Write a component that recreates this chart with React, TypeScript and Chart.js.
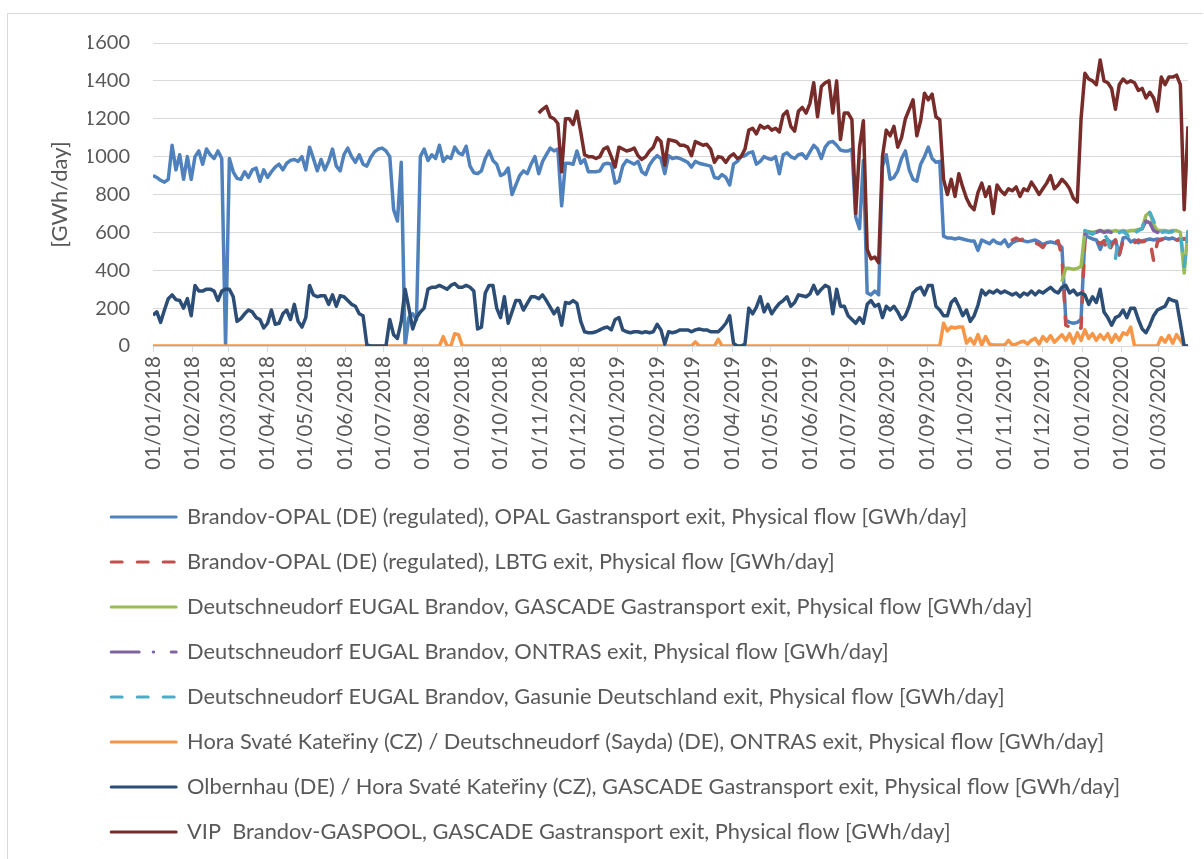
import React, { useEffect, useRef } from 'react';
import { Chart, registerables } from 'chart.js';

Chart.register(...registerables);

// Day 0 = 01/01/2018; each series is sampled every STEP days from its start day.
const STEP = 3;
const LAST_DAY = 813;

const monthLabels = [
  '01/01/2018', '01/02/2018', '01/03/2018', '01/04/2018', '01/05/2018', '01/06/2018',
  '01/07/2018', '01/08/2018', '01/09/2018', '01/10/2018', '01/11/2018', '01/12/2018',
  '01/01/2019', '01/02/2019', '01/03/2019', '01/04/2019', '01/05/2019', '01/06/2019',
  '01/07/2019', '01/08/2019', '01/09/2019', '01/10/2019', '01/11/2019', '01/12/2019',
  '01/01/2020', '01/02/2020', '01/03/2020',
];

const yTicks = [0, 200, 400, 600, 800, 1000, 1200, 1400, 1600];
const yTitle = '[GWh/day]';

const seriesNames = [
  'Brandov-OPAL (DE) (regulated), OPAL Gastransport exit, Physical flow [GWh/day]',
  'Brandov-OPAL (DE) (regulated), LBTG exit, Physical flow [GWh/day]',
  'Deutschneudorf EUGAL Brandov, GASCADE Gastransport exit, Physical flow [GWh/day]',
  'Deutschneudorf EUGAL Brandov, ONTRAS exit, Physical flow [GWh/day]',
  'Deutschneudorf EUGAL Brandov, Gasunie Deutschland exit, Physical flow [GWh/day]',
  'Hora Svaté Kateřiny (CZ) / Deutschneudorf (Sayda) (DE), ONTRAS exit, Physical flow [GWh/day]',
  'Olbernhau (DE) / Hora Svaté Kateřiny (CZ), GASCADE Gastransport exit, Physical flow [GWh/day]',
  'VIP  Brandov-GASPOOL, GASCADE Gastransport exit, Physical flow [GWh/day]',
];

// Brandov-OPAL, OPAL Gastransport exit (from day 0)
const opalStart = 0;
const opalValues = [
  900, 890, 875, 865, 880, 1060, 930, 1010, 880, 1000, // d0
  880, 1000, 1030, 960, 1040, 1010, 990, 1030, 990, 0, // d30
  990, 920, 885, 880, 920, 890, 930, 940, 870, 930, // d60
  890, 920, 945, 960, 930, 965, 980, 985, 975, 1000, // d90
  930, 1050, 990, 925, 985, 930, 975, 1040, 950, 925, // d120
  1010, 1045, 1000, 970, 1010, 960, 950, 995, 1025, 1040, // d150
  1045, 1030, 1000, 720, 660, 970, 0, 150, 170, 140, // d180
  1000, 1040, 980, 1010, 990, 1060, 975, 1000, 990, 1050, // d210
  1020, 1010, 1055, 950, 915, 910, 925, 990, 1030, 980, // d240
  960, 900, 910, 940, 800, 850, 900, 925, 910, 960, // d270
  1000, 910, 975, 1010, 1045, 1030, 1040, 740, 965, 965, // d300
  960, 1030, 965, 985, 920, 920, 920, 925, 960, 965, // d330
  960, 860, 870, 950, 980, 970, 960, 975, 920, 905, // d360
  955, 985, 1005, 990, 910, 1005, 990, 995, 990, 980, // d390
  970, 945, 975, 965, 960, 955, 950, 890, 885, 905, // d420
  890, 850, 960, 975, 1000, 1005, 1020, 1025, 960, 975, // d450
  1000, 990, 985, 1000, 910, 1010, 1020, 1000, 990, 1010, // d480
  1015, 990, 1025, 1060, 1040, 990, 1050, 1075, 1080, 1060, // d510
  1035, 1030, 1030, 1040, 680, 620, 980, 280, 270, 290, // d540
  270, 950, 1010, 880, 890, 925, 990, 1030, 930, 880, // d570
  870, 960, 1000, 1050, 990, 970, 975, 580, 570, 570, // d600
  565, 570, 565, 560, 555, 555, 505, 560, 550, 540, // d630
  560, 545, 540, 560, 525, 545, 555, 560, 555, 550, // d660
  555, 560, 550, 535, 545, 550, 545, 540, 520, 135, // d690
  125, 120, 125, 140, 580, 575, 565, 560, 510, 555, // d720
  560, 545, 560, 480, 570, 575, 550, 560, 545, 555, // d750
  560, 565, 560, 565, 560, 570, 565, 570, 560, 570, // d780
  565, 565, // d810
];

// Brandov-OPAL, LBTG exit (from day 675)
const lbtgStart = 675;
const lbtgValues = [
  560, 570, 560, 565, 560, 555, 545, 535, 520, 550, // d675
  560, 545, 555, 470, 110, 100, 105, 85, 95, 560, // d705
  570, 565, 560, 540, 555, 490, 530, 560, 480, 555, // d735
  560, 550, 545, 560, 550, 555, 560, 450, 550, 565, // d765
  560, 555, 565, 560, 560, 565, 570, // d795
];

// Deutschneudorf EUGAL, GASCADE exit (from day 714)
const eugalGascadeStart = 714;
const eugalGascadeValues = [
  340, 410, 410, 405, 410, 420, 605, 605, 600, 605, // d714
  610, 605, 610, 605, 610, 605, 610, 605, 610, 610, // d744
  615, 620, 690, 705, 640, 610, 610, 610, 605, 610, // d774
  610, 600, 385, 610, // d804
];

// Deutschneudorf EUGAL, ONTRAS exit (from day 732)
const eugalOntrasStart = 732;
const eugalOntrasValues = [
  590, 600, 595, 600, 610, 600, 605, 600, 610, 600, // d732
  605, 600, 610, 600, 610, 620, 660, 650, 610, 600, // d762
  605, 600, 610, 600, 605, 600, 610, 610, // d792
];

// Deutschneudorf EUGAL, Gasunie Deutschland exit (from day 732)
const eugalGasunieStart = 732;
const eugalGasunieValues = [
  610, 600, 590, 610, 600, 595, 560, 470, 460, 600, // d732
  605, 590, 560, 595, 610, 620, 700, 705, 660, 600, // d762
  600, 605, 600, 605, 600, 600, 420, 605, // d792
];

// Hora Svaté Kateřiny / Deutschneudorf (Sayda), ONTRAS exit (from day 0)
const horaStart = 0;
const horaValues = [
  0, 0, 0, 0, 0, 0, 0, 0, 0, 0, // d0
  0, 0, 0, 0, 0, 0, 0, 0, 0, 0, // d30
  0, 0, 0, 0, 0, 0, 0, 0, 0, 0, // d60
  0, 0, 0, 0, 0, 0, 0, 0, 0, 0, // d90
  0, 0, 0, 0, 0, 0, 0, 0, 0, 0, // d120
  0, 0, 0, 0, 0, 0, 0, 0, 0, 0, // d150
  0, 0, 0, 0, 0, 0, 0, 0, 0, 0, // d180
  0, 0, 0, 0, 0, 0, 50, 0, 0, 65, // d210
  60, 0, 0, 0, 0, 0, 0, 0, 0, 0, // d240
  0, 0, 0, 0, 0, 0, 0, 0, 0, 0, // d270
  0, 0, 0, 0, 0, 0, 0, 0, 0, 0, // d300
  0, 0, 0, 0, 0, 0, 0, 0, 0, 0, // d330
  0, 0, 0, 0, 0, 0, 0, 0, 0, 0, // d360
  0, 0, 0, 0, 0, 0, 0, 0, 0, 0, // d390
  0, 0, 22, 0, 0, 0, 0, 0, 35, 0, // d420
  0, 0, 0, 0, 0, 0, 0, 0, 0, 0, // d450
  0, 0, 0, 0, 0, 0, 0, 0, 0, 0, // d480
  0, 0, 0, 0, 0, 0, 0, 0, 0, 0, // d510
  0, 0, 0, 0, 0, 0, 0, 0, 0, 0, // d540
  0, 0, 0, 0, 0, 0, 0, 0, 0, 0, // d570
  0, 0, 0, 0, 0, 0, 0, 120, 80, 100, // d600
  95, 100, 100, 15, 40, 10, 60, 5, 50, 10, // d630
  5, 5, 5, 5, 30, 5, 10, 20, 25, 10, // d660
  30, 40, 10, 50, 25, 55, 20, 40, 60, 30, // d690
  65, 15, 70, 30, 85, 40, 65, 30, 60, 35, // d720
  65, 20, 60, 30, 70, 60, 100, 0, 0, 0, // d750
  0, 0, 0, 0, 45, 20, 55, 15, 60, 30, // d780
  0, 0, // d810
];

// Olbernhau / Hora Svaté Kateřiny, GASCADE exit (from day 0)
const olbernhauStart = 0;
const olbernhauValues = [
  163, 180, 125, 190, 250, 270, 245, 240, 200, 250, // d0
  160, 320, 290, 290, 300, 300, 290, 240, 290, 300, // d30
  300, 260, 130, 145, 170, 190, 180, 150, 140, 95, // d60
  120, 190, 115, 120, 170, 190, 140, 220, 130, 100, // d90
  150, 320, 270, 260, 265, 265, 220, 270, 210, 265, // d120
  260, 240, 220, 210, 170, 160, 5, 0, 0, 0, // d150
  0, 0, 140, 60, 40, 130, 300, 200, 90, 150, // d180
  180, 200, 300, 310, 310, 320, 310, 300, 320, 330, // d210
  310, 310, 320, 310, 290, 90, 100, 280, 320, 320, // d240
  200, 150, 260, 120, 180, 240, 240, 190, 225, 260, // d270
  260, 250, 270, 240, 205, 170, 200, 110, 230, 225, // d300
  240, 225, 130, 75, 70, 70, 75, 85, 95, 100, // d330
  85, 140, 150, 85, 75, 70, 75, 75, 70, 75, // d360
  70, 75, 115, 85, 10, 75, 70, 75, 85, 85, // d390
  85, 75, 85, 90, 85, 85, 75, 75, 75, 95, // d420
  120, 160, 14, 0, 0, 10, 200, 170, 205, 260, // d450
  180, 220, 170, 200, 225, 240, 260, 210, 230, 270, // d480
  265, 260, 275, 320, 275, 300, 320, 310, 170, 300, // d510
  210, 210, 160, 140, 120, 150, 120, 220, 240, 210, // d540
  220, 150, 210, 190, 210, 180, 140, 160, 210, 280, // d570
  300, 310, 270, 320, 320, 210, 190, 160, 160, 230, // d600
  250, 210, 160, 190, 130, 160, 215, 295, 270, 290, // d630
  280, 295, 280, 290, 280, 270, 280, 260, 280, 270, // d660
  290, 270, 290, 280, 295, 310, 290, 280, 310, 320, // d690
  280, 295, 270, 280, 270, 220, 260, 230, 300, 180, // d720
  150, 110, 150, 160, 190, 150, 200, 200, 140, 90, // d750
  70, 110, 160, 190, 200, 210, 250, 240, 235, 120, // d780
  0, 0, // d810
];

// VIP Brandov-GASPOOL, GASCADE exit (from day 303)
const vipStart = 303;
const vipValues = [
  1230, 1250, 1265, 1210, 1200, 1175, 920, 1200, 1200, 1170, // d303
  1240, 1130, 1010, 1000, 1000, 990, 1000, 1040, 1050, 1000, // d333
  945, 1050, 1040, 1030, 1035, 1045, 1005, 985, 1000, 1030, // d363
  1050, 1100, 1080, 955, 1090, 1085, 1080, 1060, 1060, 1050, // d393
  1005, 1080, 1070, 1060, 1065, 1040, 970, 1000, 995, 970, // d423
  1000, 1015, 990, 1000, 1040, 1140, 1150, 1120, 1165, 1150, // d453
  1160, 1140, 1150, 1130, 1220, 1240, 1160, 1135, 1240, 1260, // d483
  1230, 1280, 1390, 1210, 1370, 1390, 1400, 1230, 1400, 1090, // d513
  1230, 1230, 1195, 700, 1050, 1190, 510, 460, 470, 440, // d543
  1000, 1140, 1110, 1160, 1050, 1100, 1200, 1250, 1300, 1110, // d573
  1190, 1335, 1300, 1330, 1210, 1195, 880, 800, 880, 790, // d603
  910, 840, 780, 740, 720, 810, 860, 790, 840, 700, // d633
  850, 820, 800, 830, 820, 840, 790, 830, 820, 865, // d663
  835, 800, 830, 860, 900, 830, 850, 880, 860, 830, // d693
  780, 760, 1200, 1440, 1410, 1400, 1380, 1510, 1400, 1390, // d723
  1360, 1250, 1380, 1410, 1390, 1400, 1390, 1350, 1360, 1310, // d753
  1340, 1310, 1240, 1420, 1380, 1420, 1420, 1430, 1380, 720, // d783
  1160, // d813
];

const seriesColors = ['#4F81BD', '#C0504D', '#9BBB59', '#8064A2', '#4BACC6', '#F79646', '#2C4D75', '#772C2A'];
const seriesDashes: number[][] = [[], [11, 15], [], [28, 14, 0.5, 17.5], [11, 15], [], [], []];

const seriesStarts = [opalStart, lbtgStart, eugalGascadeStart, eugalOntrasStart, eugalGasunieStart, horaStart, olbernhauStart, vipStart];
const seriesValues = [opalValues, lbtgValues, eugalGascadeValues, eugalOntrasValues, eugalGasunieValues, horaValues, olbernhauValues, vipValues];

const dayOf = (label: string) => {
  const [d, m, y] = label.split('/').map(Number);
  return Math.round((Date.UTC(y, m - 1, d) - Date.UTC(2018, 0, 1)) / 86400000);
};

const TEXT = '#595959';
const GRID = '#d9d9d9';
const FONT = "Lato, 'Open Sans', 'DejaVu Sans', sans-serif";

// Vertical axis title, drawn centred on the plot height to the left of the tick labels.
const yTitlePlugin = {
  id: 'yTitle',
  afterDraw(chart: any) {
    const { ctx, chartArea } = chart;
    ctx.save();
    ctx.translate(chartArea.left - 93, (chartArea.top + chartArea.bottom) / 2);
    ctx.rotate(-Math.PI / 2);
    ctx.textAlign = 'center';
    ctx.textBaseline = 'middle';
    ctx.font = `22px ${FONT}`;
    ctx.fillStyle = TEXT;
    ctx.fillText(yTitle, 0, 0);
    ctx.restore();
  },
};

export default function App() {
  const canvasRef = useRef<HTMLCanvasElement | null>(null);

  useEffect(() => {
    if (!canvasRef.current) return;
    Chart.defaults.font.family = FONT;
    const labelByDay: Record<number, string> = {};
    monthLabels.forEach((l) => { labelByDay[dayOf(l)] = l; });

    const datasets = seriesNames.map((name, i) => ({
      label: name,
      data: seriesValues[i].map((v, k) => ({ x: seriesStarts[i] + k * STEP, y: v })),
      borderColor: seriesColors[i],
      backgroundColor: seriesColors[i],
      borderWidth: 3.5,
      borderDash: seriesDashes[i],
      borderCapStyle: seriesDashes[i].length ? 'round' : 'butt',
      borderJoinStyle: 'round',
      pointRadius: 0,
      pointHoverRadius: 0,
      tension: 0,
      fill: false,
      order: seriesNames.length - 1 - i,
    }));

    const defaultLabels = (Chart.defaults.plugins.legend.labels as any).generateLabels;

    const chart = new Chart(canvasRef.current, {
      type: 'line',
      data: { datasets } as any,
      plugins: [yTitlePlugin],
      options: {
        animation: false,
        responsive: false,
        devicePixelRatio: 1,
        events: [],
        layout: { padding: { top: 34, left: 80, right: 8, bottom: 6 } },
        scales: {
          x: {
            type: 'linear',
            min: 0,
            max: LAST_DAY,
            afterBuildTicks: (scale: any) => {
              scale.ticks = monthLabels.map((l) => ({ value: dayOf(l) }));
            },
            afterFit: (scale: any) => { scale.height = 137; },
            ticks: {
              autoSkip: false,
              maxRotation: 90,
              minRotation: 90,
              color: TEXT,
              font: { size: 20.5, family: FONT },
              padding: 4,
              callback: (value: any) => labelByDay[value] ?? '',
            },
            grid: { drawOnChartArea: false, drawTicks: true, tickLength: 6, color: GRID, lineWidth: 1 },
            border: { display: true, color: GRID, width: 1 },
          },
          y: {
            min: 0,
            max: 1600,
            afterBuildTicks: (scale: any) => {
              scale.ticks = yTicks.map((v) => ({ value: v }));
            },
            afterFit: (scale: any) => { scale.width = 65; },
            ticks: {
              color: TEXT,
              font: { size: 20, family: FONT },
              padding: 23,
              callback: (value: any) => `${value}`,
            },
            grid: { color: GRID, lineWidth: 1, drawTicks: false },
            border: { display: false },
            title: { display: false },
          },
        },
        plugins: {
          tooltip: { enabled: false },
          legend: {
            position: 'bottom',
            align: 'start',
            labels: {
              usePointStyle: true,
              pointStyle: 'line',
              pointStyleWidth: 65,
              padding: 23.2,
              color: TEXT,
              font: { size: 21.8, family: FONT },
              generateLabels: (c: any) =>
                defaultLabels(c).map((item: any) => ({
                  ...item,
                  lineDash: seriesDashes[item.datasetIndex],
                  lineCap: 'round',
                  lineWidth: 3,
                  pointStyle: 'line',
                })),
              sort: (a: any, b: any) => a.datasetIndex - b.datasetIndex,
            },
          },
        },
      } as any,
    });
    return () => chart.destroy();
  }, []);

  return (
    <div style={{ position: 'absolute', left: 8, top: 8, width: 1188, height: 851, background: '#fff' }}>
      <div
        style={{
          position: 'absolute', left: -1, top: 5, width: 1195, height: 845,
          borderTop: `1px solid ${GRID}`, borderLeft: `1px solid ${GRID}`, pointerEvents: 'none',
        }}
      />
      <canvas ref={canvasRef} width={1188} height={851} style={{ display: 'block', position: 'relative' }} />
    </div>
  );
}
